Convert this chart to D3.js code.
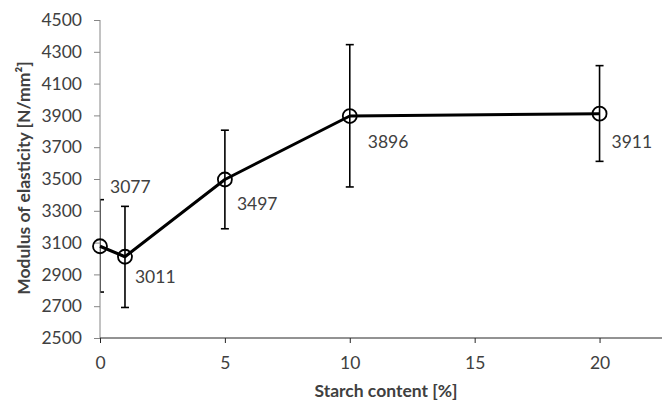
<!DOCTYPE html>
<html>
<head>
<meta charset="utf-8">
<script src="https://cdn.jsdelivr.net/npm/d3@7"></script>
<style>
  body { margin: 0; background: #fff; }
  text { font-family: Lato, "Open Sans", sans-serif; }
</style>
</head>
<body>
<div id="chart"></div>
<script>
// starch content [%] and modulus of elasticity [N/mm2]
const starch = [0, 1, 5, 10, 20];
const modulus = [3077, 3011, 3497, 3896, 3911];
const errLow = [2789, 2692, 3187, 3450, 3611];
const errHigh = [3370, 3328, 3807, 4345, 4213];
const xTicks = [0, 5, 10, 15, 20];
const yTicks = [2500, 2700, 2900, 3100, 3300, 3500, 3700, 3900, 4100, 4300, 4500];

const width = 664, height = 403;
const margin = { top: 20, right: 2, bottom: 65, left: 100 };
const w = width - margin.left - margin.right;
const h = height - margin.top - margin.bottom;

// where each value label sits relative to its point (px)
const labelDx = [10, 10, 12, 18, 12];
const labelDy = [-53, 26, 31, 32, 34];

const svg = d3.select("#chart").append("svg")
  .attr("width", width)
  .attr("height", height)
  .append("g")
  .attr("transform", "translate(" + margin.left + "," + margin.top + ")");

const x = d3.scaleLinear().domain([0, 22.5]).range([0, w]);
const y = d3.scaleLinear().domain([2500, 4500]).range([h, 0]);

const data = starch.map((s, i) => ({ s: s, v: modulus[i], lo: errLow[i], hi: errHigh[i] }));

svg.append("clipPath").attr("id", "clip")
  .append("rect").attr("x", 0).attr("y", -10).attr("width", w).attr("height", h + 10);

const plot = svg.append("g").attr("clip-path", "url(#clip)");

// error bars
const eb = plot.selectAll(".err").data(data).enter().append("g").attr("class", "err")
  .attr("stroke", "#000").attr("stroke-width", 1.6);
eb.append("line")
  .attr("x1", d => x(d.s)).attr("x2", d => x(d.s))
  .attr("y1", d => y(d.lo)).attr("y2", d => y(d.hi));
eb.append("line")
  .attr("x1", d => x(d.s) - 4).attr("x2", d => x(d.s) + 4)
  .attr("y1", d => y(d.lo)).attr("y2", d => y(d.lo));
eb.append("line")
  .attr("x1", d => x(d.s) - 4).attr("x2", d => x(d.s) + 4)
  .attr("y1", d => y(d.hi)).attr("y2", d => y(d.hi));

// axes
const yAxis = svg.append("g")
  .call(d3.axisLeft(y).tickValues(yTicks).tickFormat(d3.format("d")).tickSize(6).tickPadding(12));
yAxis.selectAll("path, line").attr("stroke", "#868686");
yAxis.selectAll("text").attr("font-size", 17.5).attr("fill", "#404040");
yAxis.select(".domain").attr("d", "M0,0V" + h);

const xAxis = svg.append("g")
  .attr("transform", "translate(0," + h + ")")
  .call(d3.axisBottom(x).tickValues(xTicks).tickSize(5).tickPadding(14));
xAxis.selectAll("path, line").attr("stroke", "#262626");
xAxis.selectAll("text").attr("font-size", 17.5).attr("fill", "#404040");
xAxis.select(".domain").attr("d", "M0,0H" + w);

// line
const line = d3.line().x(d => x(d.s)).y(d => y(d.v));
svg.append("path")
  .datum(data)
  .attr("fill", "none")
  .attr("stroke", "#000")
  .attr("stroke-width", 3)
  .attr("stroke-linejoin", "round")
  .attr("d", line);

// markers
svg.selectAll(".pt").data(data).enter().append("circle")
  .attr("cx", d => x(d.s)).attr("cy", d => y(d.v))
  .attr("r", 7)
  .attr("fill", "none")
  .attr("stroke", "#000")
  .attr("stroke-width", 1.8);

// data labels
svg.selectAll(".lbl").data(data).enter().append("text")
  .attr("x", (d, i) => x(d.s) + labelDx[i])
  .attr("y", (d, i) => y(d.v) + labelDy[i])
  .attr("font-size", 17.5)
  .attr("fill", "#404040")
  .text(d => d.v);

// axis titles
svg.append("text")
  .attr("x", 286)
  .attr("y", h + 59)
  .attr("text-anchor", "middle")
  .attr("font-size", 17.5)
  .attr("font-weight", "bold")
  .attr("fill", "#404040")
  .text("Starch content [%]");

svg.append("text")
  .attr("transform", "rotate(-90)")
  .attr("x", -(178 - margin.top))
  .attr("y", -70)
  .attr("text-anchor", "middle")
  .attr("font-size", 17.5)
  .attr("font-weight", "bold")
  .attr("fill", "#404040")
  .text("Modulus of elasticity [N/mm²]");
</script>
</body>
</html>
